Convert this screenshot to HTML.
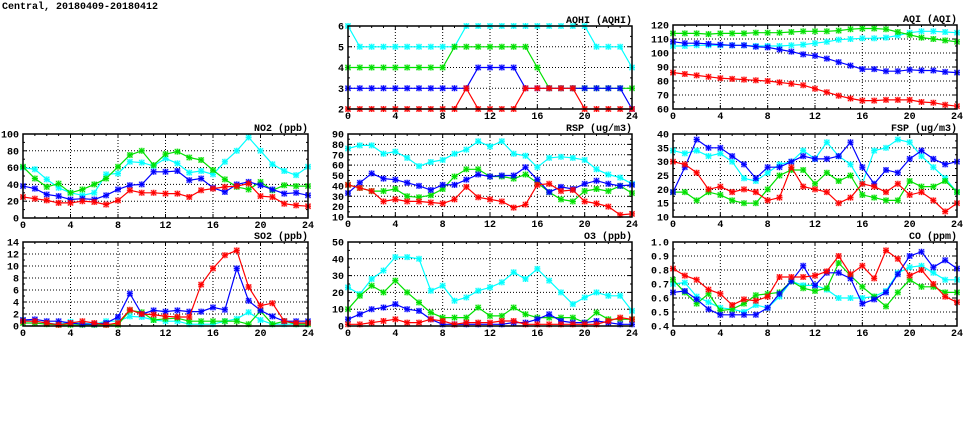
<!DOCTYPE html>
<html><head><meta charset="utf-8"><style>
html,body{margin:0;padding:0;background:#fff;}
svg{display:block;}
text{font-family:"Liberation Mono","DejaVu Sans Mono",monospace;font-weight:bold;font-size:10px;fill:#000;}
</style></head><body>
<svg id="s" width="975" height="447" xmlns="http://www.w3.org/2000/svg">
<text x="2" y="9" style="font-size:10px">Central, 20180409-20180412</text>
</svg>
<script>
var C={c:"#00ffff",g:"#00e000",b:"#0000ff",r:"#ff0000"};
var P=[
{t:"AQHI (AQHI)",x0:348,x1:632,y0:26,y1:109,min:2,max:6,ticks:[2,3,4,5,6],minor:[],d:{
c:[6,5,5,5,5,5,5,5,5,5,6,6,6,6,6,6,6,6,6,6,6,5,5,5,4],
g:[4,4,4,4,4,4,4,4,4,5,5,5,5,5,5,5,4,3,3,3,3,3,3,3,3],
b:[3,3,3,3,3,3,3,3,3,3,3,4,4,4,4,3,3,3,3,3,3,3,3,3,2],
r:[2,2,2,2,2,2,2,2,2,2,3,2,2,2,2,3,3,3,3,3,2,2,2,2,2]}},
{t:"AQI (AQI)",x0:673,x1:957,y0:25,y1:109,min:60,max:120,ticks:[60,70,80,90,100,110,120],d:{
c:[105,105,105.5,105.5,105.5,105.5,105.5,105,105,105,105.5,106,107,108,109.5,110,110.5,110.5,111,112.5,114.5,115.5,115.5,115,114.5],
g:[114,114,114,113.5,114,114,114,114.5,114.5,114.5,115,115.5,115.5,115.5,116,117,117.5,117.5,117,115,113,111,110,109,108],
b:[108,107,107,106.5,106,105.5,105.5,104.5,104,102.5,101,99,98,96,93.5,91,88.5,88.5,87,87,88,87.5,87.5,86.5,86],
r:[86,85,84,83,82,81.5,81,80.5,80,79,78,77,74.5,72,69.5,67.5,66,66,66.5,66.5,66.5,65,64.5,63,62]}},
{t:"NO2 (ppb)",x0:23,x1:308,y0:134,y1:218,min:0,max:100,ticks:[0,20,40,60,80,100],d:{
c:[60,58,46,36,30,27,30,52,53,67,66,62,71,65,54,56,52,67,80,96,80,64,56,51,61],
g:[61,47,37,41,30,34,40,47,61,75,80,63,76,79,72,69,57,46,37,34,43,33,39,38,38],
b:[38,35,28,26,22,23,22,27,34,39,40,55,55,56,45,47,36,31,40,43,39,34,29,30,27],
r:[25,23,21,18,18,20,19,16,21,33,30,30,29,29,25,33,35,37,38,41,26,25,17,15,14]}},
{t:"RSP (ug/m3)",x0:348,x1:632,y0:134,y1:217,min:10,max:90,ticks:[10,20,30,40,50,60,70,80,90],d:{
c:[76,79,79,71,73,67,59,63,65,71,75,83,78,83,71,69,58,67,68,67,65,56,51,48,42],
g:[41,38,35,35,37,30,29,31,37,49,56,56,49,49,47,51,43,34,27,25,35,37,35,40,33],
b:[33,43,52,47,46,43,40,36,41,41,46,51,49,50,50,58,46,34,39,37,42,45,42,40,41],
r:[41,38,35,25,27,25,25,24,23,27,39,29,27,25,19,22,41,42,35,36,25,23,20,12,13]}},
{t:"FSP (ug/m3)",x0:673,x1:957,y0:134,y1:217,min:10,max:40,ticks:[10,15,20,25,30,35,40],d:{
c:[34,33,34,32,33,30,24,23,26,29,30,34,31,37,32,29,22,34,35,38,37,32,28,24,19],
g:[19,19,16,19,18,16,15,15,20,25,27,27,22,26,23,25,18,17,16,16,23,21,21,23,19],
b:[19,28,38,35,35,32,29,24,28,28,30,32,31,31,32,37,28,22,27,26,31,34,31,29,30],
r:[30,29,26,20,21,19,20,19,16,17,28,21,20,19,15,17,22,21,19,22,18,19,16,12,15]}},
{t:"SO2 (ppb)",x0:23,x1:308,y0:242,y1:326,min:0,max:14,ticks:[0,2,4,6,8,10,12,14],d:{
c:[1,0.8,0.5,0.3,0.7,0.5,0.3,0.8,0.8,1.6,1.5,1,0.8,0.8,0.3,0.3,0.3,0.8,1.2,2.3,1,0.3,0.3,0.3,0.3],
g:[0.5,0.5,0.3,0.2,0.2,0.2,0.2,0.2,0.2,2.6,2.3,1,1.2,1.3,0.8,0.8,0.8,0.8,0.8,0.3,2.5,0.3,0.8,0.3,0.3],
b:[1,1.1,0.8,0.8,0.5,0.3,0.3,0.5,1.5,5.4,2,2.6,2.4,2.6,2.4,2.4,3.1,2.7,9.6,4.2,2.6,1.6,0.8,0.8,0.8],
r:[0.8,0.8,0.5,0.2,0.5,0.8,0.5,0.2,0.5,2.7,2,1.9,1.6,1.5,1.5,6.9,9.6,11.8,12.6,6.5,3.4,3.8,0.8,0.5,0.5]}},
{t:"O3 (ppb)",x0:348,x1:632,y0:242,y1:326,min:0,max:50,ticks:[0,10,20,30,40,50],d:{
c:[23,19,28,33,41,41,40,21,24,15,17,21,23,26,32,28,34,27,20,13,17,20,18,18,9],
g:[10,18,24,20,27,20,14,8,5,5,5,11,6,6,11,7,5,5,5,5,2,8,4,4,4],
b:[4,7,10,11,13,10,9,4,1,1,1,1,1,1,2,2,4,7,3,2,2,3,2,1,1],
r:[1,1,2,3,4,2,2,4,3,1,2,2,2,3,3,1,1,1,1,1,1,1,3,5,4]}},
{t:"CO (ppm)",x0:673,x1:957,y0:242,y1:326,min:0.4,max:1.0,ticks:[0.4,0.5,0.6,0.7,0.8,0.9,1.0],fmt:1,d:{
c:[0.70,0.71,0.61,0.57,0.53,0.52,0.50,0.55,0.53,0.61,0.72,0.69,0.69,0.66,0.60,0.60,0.60,0.61,0.65,0.78,0.82,0.83,0.78,0.73,0.73],
g:[0.73,0.64,0.56,0.63,0.51,0.52,0.56,0.62,0.63,0.64,0.72,0.67,0.65,0.67,0.85,0.76,0.68,0.61,0.54,0.64,0.73,0.68,0.68,0.64,0.64],
b:[0.64,0.65,0.59,0.52,0.48,0.48,0.48,0.48,0.53,0.63,0.72,0.83,0.69,0.78,0.78,0.74,0.56,0.59,0.64,0.77,0.90,0.93,0.82,0.87,0.81],
r:[0.81,0.76,0.73,0.66,0.63,0.55,0.59,0.58,0.61,0.75,0.75,0.75,0.76,0.79,0.90,0.77,0.83,0.74,0.94,0.88,0.76,0.80,0.70,0.61,0.57]}}
];
var h="";
P.forEach(function(p){
 var W=p.x1-p.x0,H=p.y1-p.y0;
 function X(i){return p.x0+W*i/24;}
 function Y(v){return p.y1-H*(v-p.min)/(p.max-p.min);}
 for(var i=4;i<24;i+=4){h+='<line x1="'+X(i)+'" x2="'+X(i)+'" y1="'+p.y0+'" y2="'+p.y1+'" stroke="#000" stroke-width="1" stroke-dasharray="1,2"/>';}
 p.ticks.forEach(function(v,k){var y=Y(v);
  if(k>0&&k<p.ticks.length-1)h+='<line x1="'+p.x0+'" x2="'+p.x1+'" y1="'+y+'" y2="'+y+'" stroke="#000" stroke-width="1" stroke-dasharray="1,2"/>';
  h+='<line x1="'+p.x0+'" x2="'+(p.x0+4)+'" y1="'+y+'" y2="'+y+'" stroke="#000"/><line x1="'+p.x1+'" x2="'+(p.x1-4)+'" y1="'+y+'" y2="'+y+'" stroke="#000"/>';
  h+='<text x="'+(p.x0-4)+'" y="'+(y+3.5)+'" text-anchor="end">'+(p.fmt?v.toFixed(1):v)+'</text>';
  if(k<p.ticks.length-1){var ym=(y+Y(p.ticks[k+1]))/2;h+='<line x1="'+p.x0+'" x2="'+(p.x0+2)+'" y1="'+ym+'" y2="'+ym+'" stroke="#000"/><line x1="'+p.x1+'" x2="'+(p.x1-2)+'" y1="'+ym+'" y2="'+ym+'" stroke="#000"/>';}
 });
 for(var i=0;i<=24;i++){var x=X(i),L=(i%4==0)?4:2;
  h+='<line x1="'+x+'" x2="'+x+'" y1="'+p.y1+'" y2="'+(p.y1-L)+'" stroke="#000"/><line x1="'+x+'" x2="'+x+'" y1="'+p.y0+'" y2="'+(p.y0+L)+'" stroke="#000"/>';
  if(i%4==0)h+='<text x="'+x+'" y="'+(p.y1+10)+'" text-anchor="middle">'+i+'</text>';}
 h+='<text x="'+p.x1+'" y="'+(p.y0-3)+'" text-anchor="end">'+p.t+'</text>';
 ["c","g","b","r"].forEach(function(k){var a=p.d[k],col=C[k],pts=a.map(function(v,i){return X(i).toFixed(1)+","+Y(v).toFixed(1);}).join(" ");
  h+='<polyline points="'+pts+'" fill="none" stroke="'+col+'" stroke-width="1.2"/>';
  a.forEach(function(v,i){var x=X(i),y=Y(v);
   h+='<rect x="'+(x-3)+'" y="'+(y-3)+'" width="6" height="6" fill="'+col+'" opacity="0.35"/>';
   h+='<path d="M'+(x-2.5)+','+(y-2.5)+'L'+(x+2.5)+','+(y+2.5)+'M'+(x-2.5)+','+(y+2.5)+'L'+(x+2.5)+','+(y-2.5)+'M'+(x-3)+','+y+'L'+(x+3)+','+y+'M'+x+','+(y-3)+'L'+x+','+(y+3)+'" stroke="'+col+'" stroke-width="1"/>';});
 });
 h+='<rect x="'+p.x0+'" y="'+p.y0+'" width="'+W+'" height="'+H+'" fill="none" stroke="#000" stroke-width="1.5"/>';
});
document.getElementById("s").insertAdjacentHTML("beforeend",h);
</script>
</body></html>
